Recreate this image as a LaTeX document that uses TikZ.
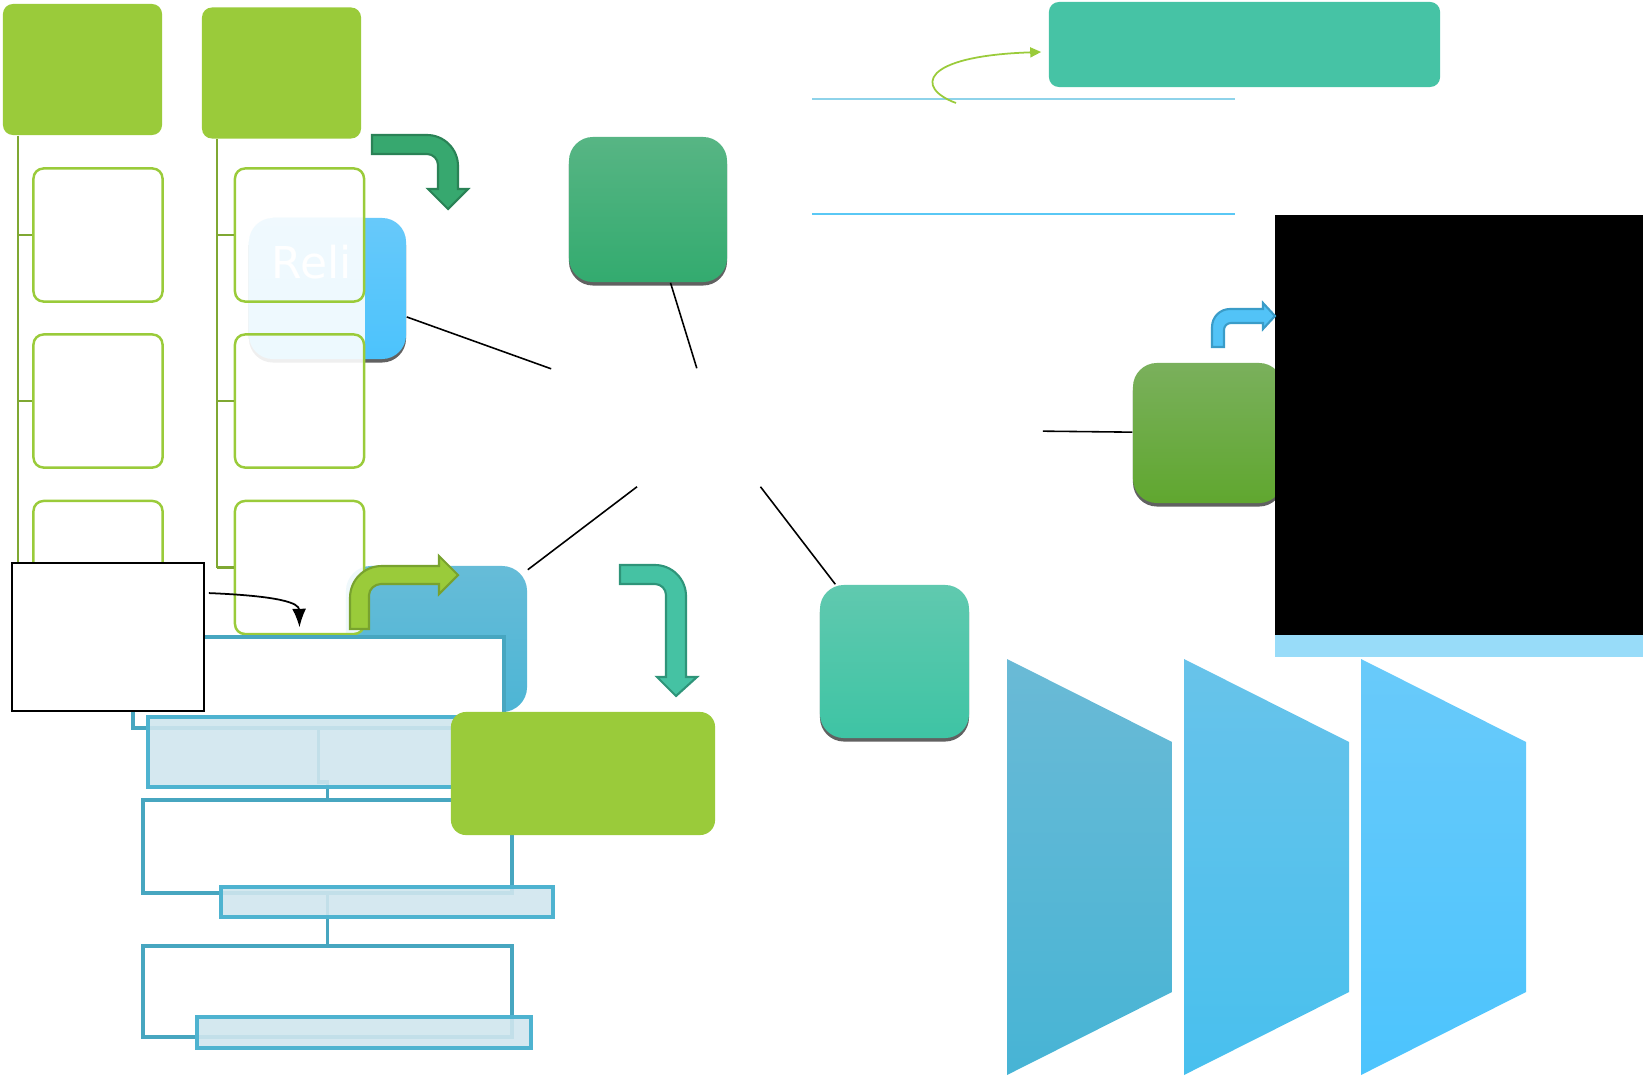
\documentclass[tikz,border=0pt]{standalone}
\usepackage{fontspec}
\newfontfamily\relifont{DejaVu Sans}
\usetikzlibrary{arrows.meta,calc,shadows}

\definecolor{leafgreen}{HTML}{9ACB3A}
\definecolor{leafedge}{HTML}{78A22E}
\definecolor{treegreen}{HTML}{7FA832}
\definecolor{framecol}{HTML}{47A6C0}
\definecolor{labelfill}{HTML}{D0E6EE}
\definecolor{labeledge}{HTML}{4EB3D0}
\definecolor{tealflat}{HTML}{46C3A5}
\definecolor{stripblue}{HTML}{98DCF9}
\definecolor{guideA}{HTML}{8ED3EA}
\definecolor{guideB}{HTML}{5AC8F5}
\definecolor{reliTop}{HTML}{67C9FA}
\definecolor{reliBot}{HTML}{4CC3FC}
\definecolor{forestTop}{HTML}{57B584}
\definecolor{forestBot}{HTML}{33AB6F}
\definecolor{forestArrow}{HTML}{37A86F}
\definecolor{forestEdge}{HTML}{2A8256}
\definecolor{oceanTop}{HTML}{66BCD8}
\definecolor{oceanBot}{HTML}{4DB5D5}
\definecolor{mintTop}{HTML}{60C9AF}
\definecolor{mintBot}{HTML}{3EC4A4}
\definecolor{mintArrow}{HTML}{45C2A3}
\definecolor{mintEdge}{HTML}{2E9479}
\definecolor{mossTop}{HTML}{7AB05C}
\definecolor{mossBot}{HTML}{60A72F}
\definecolor{skyArrow}{HTML}{52C3F7}
\definecolor{skyEdge}{HTML}{3A9CC8}
\definecolor{trapAtop}{HTML}{6ABAD6}
\definecolor{trapAbot}{HTML}{47B4D5}
\definecolor{trapBtop}{HTML}{68C3EA}
\definecolor{trapBbot}{HTML}{48C0EE}
\definecolor{trapCtop}{HTML}{69CAFA}
\definecolor{trapCbot}{HTML}{4CC4FD}

\begin{document}
\begin{tikzpicture}[
    x=0.01cm, y=-0.01cm,
    >=Latex,
    pillar/.style={rectangle, rounded corners=0.1cm, fill=leafgreen,
        minimum width=1.59cm, minimum height=1.31cm},
    item/.style={rectangle, rounded corners=0.1cm, draw=leafgreen,
        line width=0.7pt, minimum width=1.29cm, minimum height=1.33cm},
    glossy/.style={rectangle, rounded corners=0.24cm,
        drop shadow={shadow xshift=0pt, shadow yshift=-0.035cm, fill=black!62, opacity=1}},
    stage/.style={rectangle, draw=framecol, line width=1pt, fill=white},
    tag/.style={rectangle, draw=labeledge, line width=1pt, fill=labelfill, fill opacity=0.9},
    spoke/.style={black, line width=0.45pt},
    trunk/.style={treegreen, line width=0.6pt},
    guide/.style={line width=0.45pt},
    bent/.style={line width=0.6pt}
]
\useasboundingbox (0,0) rectangle (1643,1076);

% top right banner
\draw[guide, color=guideA] (812,99) -- (1235,99);
\draw[guide, color=guideB] (812,214) -- (1235,214);
\node[rectangle, rounded corners=0.1cm, fill=tealflat,
    minimum width=3.91cm, minimum height=0.85cm] (banner) at (1244.5,44.5) {};
\coordinate (hook) at (956,103);
\draw[leafgreen, line width=0.5pt, -{Triangle[length=0.11cm, width=0.1cm]}]
    (hook) .. controls (915,88) and (920,56) .. ($(banner.west)+(-7,7.5)$);

% two pillars with their items
\node[pillar] (pillarA) at (82.5,69.5) {};
\node[pillar] (pillarB) at (281.5,73) {};

\node[glossy, top color=reliTop, bottom color=reliBot,
    minimum width=1.57cm, minimum height=1.41cm] (reli) at (327.5,288.5) {};
\begin{scope}
    \clip[rounded corners=0.24cm] (reli.south west) ++(0,4) rectangle (reli.north east);
    \fill[white, opacity=0.9] (reli.south west) ++(0,4) rectangle ($(reli.north west)+(117,0)$);
\end{scope}
\node[text=white, font=\relifont\fontsize{12.5}{15}\selectfont, anchor=base,
    inner sep=0] (relilabel) at (312,278) {Reli};

\node[item] (itemA1) at (98,235) {};
\node[item] (itemA2) at (98,401) {};
\node[item] (itemA3) at (98,567.5) {};
\node[item] (itemB1) at (299.5,235) {};
\node[item] (itemB2) at (299.5,401) {};

\coordinate (trunkA) at (18,136);
\coordinate (trunkB) at (217,140);
\draw[trunk] (pillarA.south -| trunkA) |- (itemA3.west);
\draw[trunk] (pillarB.south -| trunkB) -- (trunkB |- itemA3.west);
\foreach \n in {itemA1,itemA2} \draw[trunk] (\n.west -| trunkA) -- (\n.west);
\foreach \n in {itemB1,itemB2} \draw[trunk] (\n.west -| trunkB) -- (\n.west);

% hub and spokes
\node[glossy, top color=forestTop, bottom color=forestBot,
    minimum width=1.58cm, minimum height=1.45cm] (gt) at (648,209.5) {};
\draw[bent, fill=forestArrow, draw=forestEdge]
    (372,135) -- (427,135) .. controls (444,135) and (458,149) .. (458,166)
    -- (458,189) -- (468,189) -- (448,209) -- (428,189) -- (438,189)
    -- (438,165) .. controls (438,159) and (433,154) .. (427,154) -- (372,154) -- cycle;

\node[rectangle, rounded corners=0.25cm, top color=oceanTop, bottom color=oceanBot,
    minimum width=1.81cm, minimum height=1.46cm] (bb) at (436.5,639) {};
\node[item, fill=white, fill opacity=0.9] (itemB3) at (299.5,567.5) {};
\draw[trunk] (trunkB |- itemB3.west) -- (itemB3.west);

\draw[bent, fill=leafgreen, draw=leafedge]
    (350,629) -- (350,598) .. controls (350,580) and (364,566) .. (382,566)
    -- (439,566) -- (439,556) -- (458,575) -- (439,594) -- (439,584)
    -- (381,584) .. controls (375,584) and (369,589) .. (369,595) -- (369,629) -- cycle;

% stacked stages
\node[stage, minimum width=3.71cm, minimum height=0.91cm] (stage1) at (318.5,682.5) {};
\node[stage, minimum width=3.69cm, minimum height=0.93cm] (stage2) at (327.5,846.5) {};
\node[stage, minimum width=3.69cm, minimum height=0.91cm] (stage3) at (327.5,991.5) {};
\draw[framecol, line width=1pt] (stage1.south) -- ++(0,52) -| (stage2.north);
\draw[framecol, line width=1pt] (stage2.south) -- (stage3.north);
\node[tag, minimum width=3.32cm, minimum height=0.70cm] (tag1) at (314,752) {};
\node[tag, minimum width=3.32cm, minimum height=0.30cm] (tag2) at (387,902) {};
\node[tag, minimum width=3.34cm, minimum height=0.31cm] (tag3) at (364,1032.5) {};

\node[rectangle, draw=black, line width=0.5pt, fill=white,
    minimum width=1.92cm, minimum height=1.48cm] (note) at (108,637) {};
\draw[->, line width=0.5pt] ($(note.north east)+(4,31)$)
    .. controls (280,596) and (299,603) .. ($(itemB3.south)+(0,-8)$);

\node[rectangle, rounded corners=0.15cm, fill=leafgreen,
    minimum width=2.64cm, minimum height=1.23cm] (gy) at (583,773.5) {};

\draw[bent, fill=mintArrow, draw=mintEdge]
    (620,565) -- (655,565) .. controls (672,565) and (686,579) .. (686,596)
    -- (686,677) -- (697,677) -- (676,696) -- (657,677) -- (666,677)
    -- (666,595) .. controls (666,589) and (661,584) .. (655,584) -- (620,584) -- cycle;

\node[glossy, top color=mintTop, bottom color=mintBot,
    minimum width=1.49cm, minimum height=1.53cm] (tb) at (894.5,661.5) {};
\node[glossy, top color=mossTop, bottom color=mossBot,
    minimum width=1.50cm, minimum height=1.40cm] (gr) at (1208,433) {};

\node[minimum width=3.26cm, minimum height=1.17cm] (hub) at (715,427.5) {};
\draw[spoke] (reli) -- (hub);
\draw[spoke] (gt) -- (hub);
\draw[spoke] (hub) -- (bb);
\draw[spoke] (hub) -- (tb);
\draw[spoke, shorten <=1.64cm] (hub) -- (gr);

% right panel
\node[fill=black, inner sep=0, outer sep=0, anchor=north west,
    minimum width=3.68cm, minimum height=4.20cm] (screen) at (1275,215) {};
\fill[stripblue] (screen.south west) rectangle ++(368,22);
\draw[bent, fill=skyArrow, draw=skyEdge]
    (1212,347) -- (1212,327) .. controls (1212,317) and (1220,309) .. (1230,309)
    -- (1263,309) -- (1263,303) -- (1275,316) -- (1263,329) -- (1263,323)
    -- (1231,323) .. controls (1227,323) and (1224,326) .. (1224,330) -- (1224,347) -- cycle;

\foreach \dx/\ct/\cb in {0/trapAtop/trapAbot, 177/trapBtop/trapBbot, 354/trapCtop/trapCbot}
    \shade[top color=\ct, bottom color=\cb]
        (1007+\dx,659) -- (1172+\dx,742) -- (1172+\dx,992) -- (1007+\dx,1075) -- cycle;

\end{tikzpicture}
\end{document}
